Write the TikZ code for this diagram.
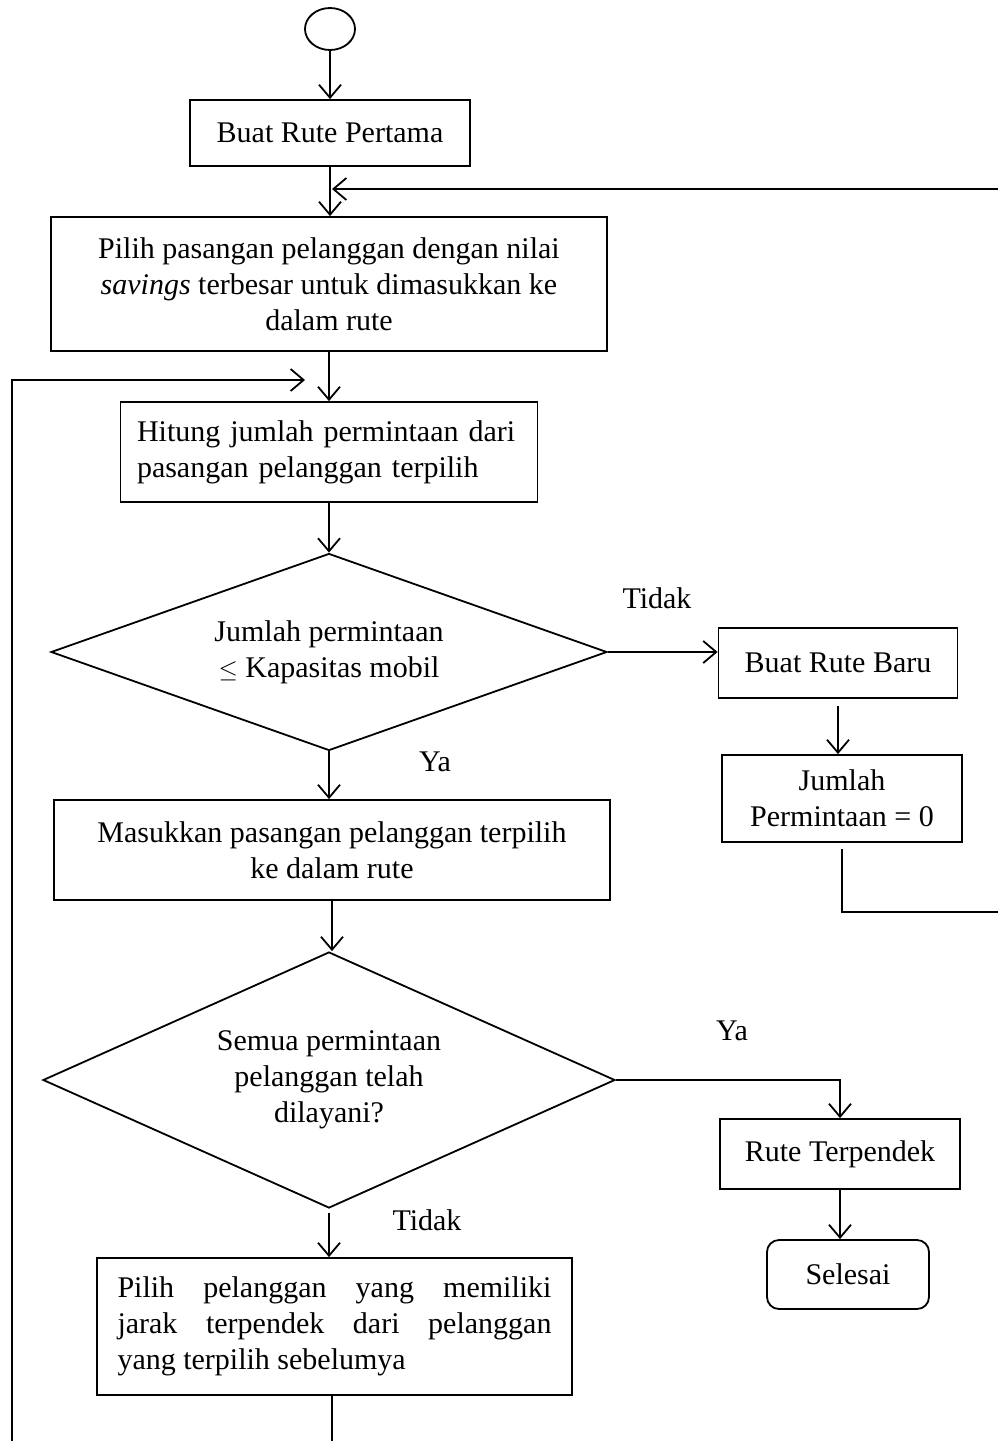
\documentclass[tikz,border=0pt]{standalone}
\usepackage{fontspec}
\setmainfont{Liberation Serif}
\usetikzlibrary{shapes.geometric,arrows.meta}
\begin{document}
\begin{tikzpicture}[x=1pt,y=-1pt,
  every node/.style={font=\fontsize{30}{36}\selectfont},
  line/.style={line width=1.8pt,draw=black},
  arr/.style={line, -{Straight Barb[length=13pt,width=22pt,line width=1.8pt]}},
  box/.style={line, rectangle, inner sep=0pt, align=center},
  dia/.style={line, diamond, inner sep=0pt, align=center},
  lab/.style={inner sep=0pt}]
\useasboundingbox (0,0) rectangle (998,1441);
\node[line, ellipse, minimum width=50pt, minimum height=42pt, inner sep=0pt] (c) at (330,29) {};
\node[box, minimum width=280pt, minimum height=66pt] (b1) at (330,133) {Buat Rute Pertama};
\node[box, minimum width=556pt, minimum height=134pt] (b2) at (329,284) {Pilih pasangan pelanggan dengan nilai\\ \textit{savings} terbesar untuk dimasukkan ke\\ dalam rute};
\node[box, minimum width=417pt, minimum height=100pt, text width=384pt, align=left] (b3) at (329,452) {Hitung jumlah permintaan dari\\ pasangan pelanggan terpilih};
\node[dia, aspect=2.82, minimum width=556pt, minimum height=197pt] (d1) at (329,652) {Jumlah permintaan\\ $\leq$ Kapasitas mobil};
\node[box, minimum width=239pt, minimum height=70pt] (b4) at (838,663) {Buat Rute Baru};
\node[box, minimum width=240pt, minimum height=87pt] (b5) at (842,798.5) {Jumlah\\ Permintaan = 0};
\node[box, minimum width=556pt, minimum height=100pt] (b6) at (332,850) {Masukkan pasangan pelanggan terpilih\\ ke dalam rute};
\node[dia, aspect=2.24, minimum width=572pt, minimum height=256pt] (d2) at (329,1080) {Semua permintaan\\ pelanggan telah\\ dilayani?};
\node[box, minimum width=240pt, minimum height=70pt] (b7) at (840,1154) {Rute Terpendek};
\node[box, minimum width=162pt, minimum height=69pt, rounded corners=12pt] (s) at (848,1274.5) {Selesai};
\node[box, minimum width=475pt, minimum height=137pt, text width=434pt, align=justify] (b9) at (334.5,1326.5) {Pilih pelanggan yang memiliki\linebreak jarak terpendek dari pelanggan\linebreak yang terpilih sebelumya};
\node[lab] (l1) at (657,598) {Tidak};
\node[lab] (l2) at (435,762) {Ya};
\node[lab] (l3) at (732,1031) {Ya};
\node[lab] (l4) at (427,1220) {Tidak};
\coordinate (rtop) at (998,189);
\coordinate (rbot) at (998,912);
\coordinate (lbot) at (12,1441);
\coordinate (lbend) at (12,380);
\coordinate (lend) at (305,380);
\coordinate (bend) at (332,1441);
\draw[arr] (c.south) -- (c.south |- b1.north);
\draw[arr] (b1.south) -- (b1.south |- b2.north);
\draw[arr] (rtop) -- ([xshift=3pt]b2.north |- rtop);
\draw[arr] (b2.south) -- (b2.south |- b3.north);
\draw[arr] (lbot) -- (lbend) -- (lend);
\draw[arr] (b3.south) -- (b3.south |- d1.north);
\draw[arr] (d1.east) -- (d1.east -| b4.west);
\draw[arr] ([yshift=-7pt]b4.south) -- (b4.south |- b5.north);
\draw[line] ([yshift=-6pt]b5.south) -- (b5.south |- rbot) -- (rbot);
\draw[arr] (d1.south) -- (d1.south |- b6.north);
\draw[arr] (b6.south) -- (b6.south |- d2.north);
\draw[arr] (d2.east) -| (b7.north);
\draw[arr] (b7.south) -- (b7.south |- s.north);
\draw[arr] ([yshift=-4pt]d2.south) -- (d2.south |- b9.north);
\draw[line] (b9.south -| bend) -- (bend);
\end{tikzpicture}
\end{document}
